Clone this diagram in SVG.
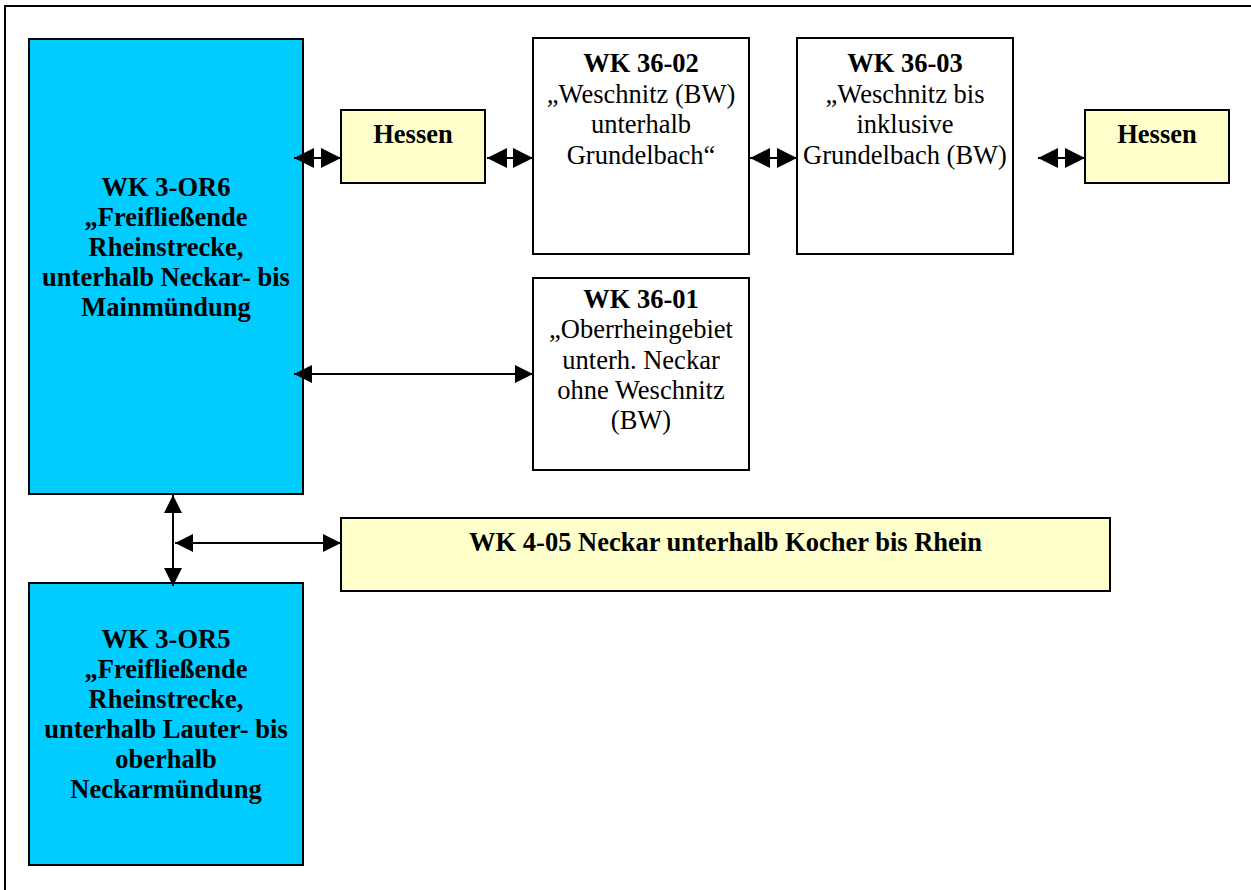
<svg xmlns="http://www.w3.org/2000/svg" width="1251" height="890" viewBox="0 0 1251 890">
<style>
.frame{fill:#fff;stroke:#000;stroke-width:2}
.blue{fill:#00ccff;stroke:#000;stroke-width:2}
.yel{fill:#ffffcc;stroke:#000;stroke-width:2}
.wht{fill:#fff;stroke:#000;stroke-width:2}
text{font-family:"Liberation Serif","Times New Roman",serif;font-size:26.5px;fill:#000;text-anchor:middle}
.b{font-weight:bold}
.con line{stroke:#000;stroke-width:2;marker-start:url(#ah);marker-end:url(#ah)}
.con line.s{marker-start:url(#ahs);marker-end:url(#ahs)}
</style>
<defs>
<marker id="ah" markerUnits="userSpaceOnUse" markerWidth="18" markerHeight="18" refX="18" refY="9" orient="auto-start-reverse" viewBox="0 0 18 18">
<path d="M0,0 L18,9 L0,18 Z" fill="#000"/>
</marker>
<marker id="ahs" markerUnits="userSpaceOnUse" markerWidth="20" markerHeight="20" refX="20" refY="10" orient="auto-start-reverse" viewBox="0 0 20 20">
<path d="M0,0 L20,10 L0,20 Z" fill="#000"/>
</marker>
</defs>
<rect class="frame" x="5" y="6" width="1262" height="900"/>
<g id="or6">
<rect class="blue" x="29" y="39" width="274" height="455"/>
<text class="b" x="166" y="196">WK 3-OR6</text>
<text class="b" x="166" y="226">„Freifließende</text>
<text class="b" x="166" y="256">Rheinstrecke,</text>
<text class="b" x="166" y="286">unterhalb Neckar- bis</text>
<text class="b" x="166" y="316">Mainmündung</text>
</g>
<g id="or5">
<rect class="blue" x="29" y="583" width="274" height="282"/>
<text class="b" x="166" y="648">WK 3-OR5</text>
<text class="b" x="166" y="678">„Freifließende</text>
<text class="b" x="166" y="708">Rheinstrecke,</text>
<text class="b" x="166" y="738">unterhalb Lauter- bis</text>
<text class="b" x="166" y="768">oberhalb</text>
<text class="b" x="166" y="798">Neckarmündung</text>
</g>
<g id="hessen1">
<rect class="yel" x="341" y="110" width="144" height="73"/>
<text class="b" x="413" y="143">Hessen</text>
</g>
<g id="wk3602">
<rect class="wht" x="533" y="38" width="216" height="216"/>
<text class="b" x="641" y="72">WK 36-02</text>
<text x="641" y="102.5">„Weschnitz (BW)</text>
<text x="641" y="133">unterhalb</text>
<text x="641" y="163.5">Grundelbach“</text>
</g>
<g id="wk3603">
<rect class="wht" x="797" y="38" width="216" height="216"/>
<text class="b" x="905" y="72">WK 36-03</text>
<text x="905" y="102.5">„Weschnitz bis</text>
<text x="905" y="133">inklusive</text>
<text x="905" y="163.5">Grundelbach (BW)</text>
</g>
<g id="hessen2">
<rect class="yel" x="1085" y="110" width="144" height="73"/>
<text class="b" x="1157" y="143">Hessen</text>
</g>
<g id="wk3601">
<rect class="wht" x="533" y="278" width="216" height="192"/>
<text class="b" x="641" y="308">WK 36-01</text>
<text x="641" y="338">„Oberrheingebiet</text>
<text x="641" y="368.5">unterh. Neckar</text>
<text x="641" y="399">ohne Weschnitz</text>
<text x="641" y="429">(BW)</text>
</g>
<g id="wk405">
<rect class="yel" x="341" y="518" width="769" height="73"/>
<text class="b" x="725.5" y="551">WK 4-05 Neckar unterhalb Kocher bis Rhein</text>
</g>
<g id="connectors" class="con">
<line class="s" x1="294" y1="158" x2="341" y2="158"/>
<line class="s" x1="487" y1="158" x2="533" y2="158"/>
<line class="s" x1="750" y1="158" x2="797" y2="158"/>
<line class="s" x1="1038" y1="158" x2="1085" y2="158"/>
<line x1="294" y1="374" x2="533" y2="374"/>
<line x1="173" y1="495" x2="173" y2="586"/>
<line x1="175" y1="543" x2="341" y2="543"/>
</g>
</svg>
